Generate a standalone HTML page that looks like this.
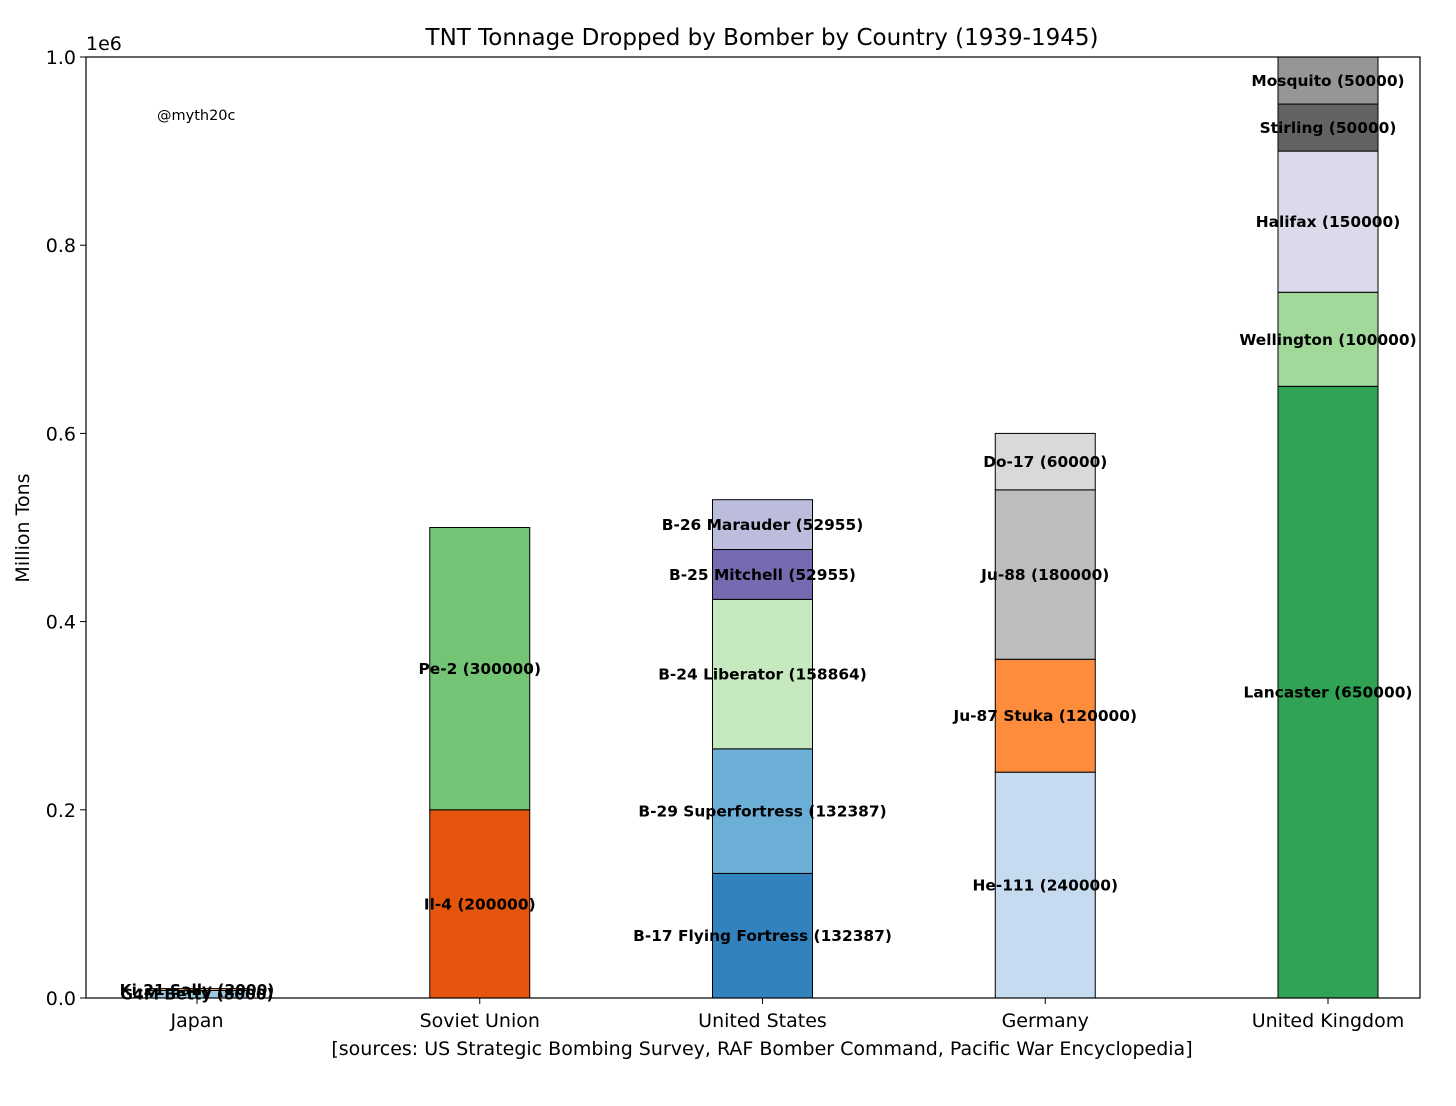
<!DOCTYPE html>
<html><head><meta charset="utf-8"><style>
body{margin:0;background:#fff;font-family:"DejaVu Sans","Liberation Sans",sans-serif}
svg text{font-family:"DejaVu Sans","Liberation Sans",sans-serif}
</style></head><body>
<svg id="c" width="1456" height="1102" xmlns="http://www.w3.org/2000/svg"></svg>
<script>
const categories=["Japan","Soviet Union","United States","Germany","United Kingdom"];
const segNames=[
 ["G4M Betty","Ki-21 Sally"],
 ["Il-4","Pe-2"],
 ["B-17 Flying Fortress","B-29 Superfortress","B-24 Liberator","B-25 Mitchell","B-26 Marauder"],
 ["He-111","Ju-87 Stuka","Ju-88","Do-17"],
 ["Lancaster","Wellington","Halifax","Stirling","Mosquito"]];
const segValues=[
 [8000,2000],
 [200000,300000],
 [132387,132387,158864,52955,52955],
 [240000,120000,180000,60000],
 [650000,100000,150000,50000,50000]];
const segColors=[
 ["#9ecae1","#fdae6b"],
 ["#e6550d","#74c476"],
 ["#3182bd","#6baed6","#c7e9c0","#756bb1","#bcbddc"],
 ["#c6dbef","#fd8d3c","#bdbdbd","#d9d9d9"],
 ["#31a354","#a1d99b","#dadaeb","#636363","#969696"]];
const yTicks=[0,0.2,0.4,0.6,0.8,1.0];
const L=86,R=1420,T=57,B=998;
const y=v=>B-(v/1e6)*(B-T);
const x=i=>197+i*282.75;
const bw=100;
const svg=document.getElementById('c');
const NS='http://www.w3.org/2000/svg';
function mk(t,a,txt){const e=document.createElementNS(NS,t);for(const k in a)e.setAttribute(k,a[k]);if(txt!==undefined)e.textContent=txt;svg.appendChild(e);return e;}
let e;
e=mk('text',{x:762,y:45,'text-anchor':'middle','font-size':23},'TNT Tonnage Dropped by Bomber by Country (1939-1945)');


const labels=[];
categories.forEach((c,i)=>{
 let acc=0;
 segValues[i].forEach((v,j)=>{
  e=mk('rect',{x:x(i)-bw/2,y:y(acc+v),width:bw,height:y(acc)-y(acc+v),fill:segColors[i][j],stroke:'#000','stroke-width':1});
  
  
  labels.push([x(i),y(acc+v/2),segNames[i][j]+' ('+v+')']);
  acc+=v;
 });
});
labels.forEach(l=>{
 e=mk('text',{x:l[0],y:l[1]+5.5,'text-anchor':'middle','font-size':15.4,'font-weight':'bold'},l[2]);
 
 
});
e=mk('rect',{x:L,y:T,width:R-L,height:B-T,fill:'none',stroke:'#000','stroke-width':1.2});


yTicks.forEach(t=>{
 mk('line',{x1:L-6,x2:L,y1:y(t*1e6),y2:y(t*1e6),stroke:'#000'});
 e=mk('text',{x:L-10,y:y(t*1e6)+7,'text-anchor':'end','font-size':19},t.toFixed(1));
 
 
});
e=mk('text',{x:86,y:50,'font-size':19},'1e6');


categories.forEach((c,i)=>{
 mk('line',{x1:x(i),x2:x(i),y1:B,y2:B+6,stroke:'#000'});
 e=mk('text',{x:x(i),y:B+29,'text-anchor':'middle','font-size':19},c);
 
 
});
e=mk('text',{x:762,y:1055,'text-anchor':'middle','font-size':19},'[sources: US Strategic Bombing Survey, RAF Bomber Command, Pacific War Encyclopedia]');


e=mk('text',{x:0,y:0,'text-anchor':'middle','font-size':19,transform:'translate(29,528) rotate(-90)'},'Million Tons');


e=mk('text',{x:157,y:120,'font-size':14.5},'@myth20c');


</script>
</body></html>
